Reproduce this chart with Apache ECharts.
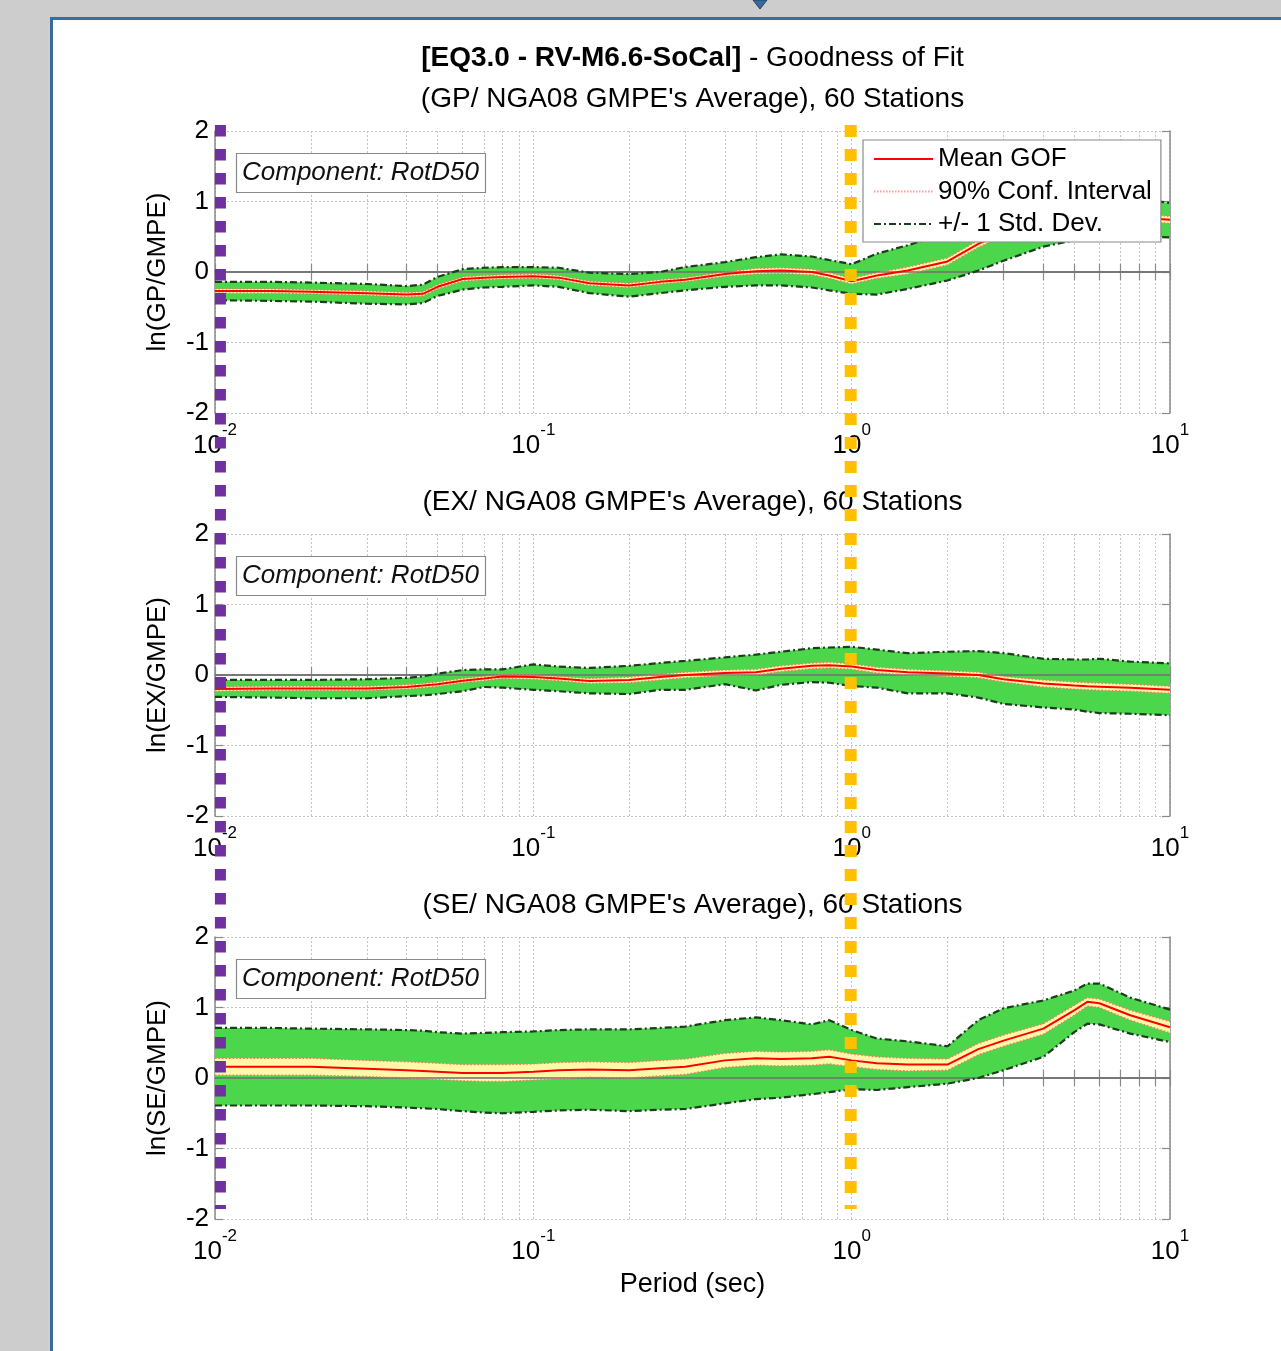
<!DOCTYPE html>
<html>
<head>
<meta charset="utf-8">
<title>Goodness of Fit</title>
<script src="https://cdn.jsdelivr.net/npm/echarts@6.0.0/dist/echarts.min.js"></script>
<style>
  html, body { margin: 0; padding: 0; background: #cdcdcd; }
  #frame { position: absolute; left: 50px; top: 17px; right: 0; bottom: 0; background: #ffffff;
           border-top: 3px solid #3b6a9c; border-left: 3px solid #3b6a9c; }
  #chart { position: absolute; left: 0; top: 0; width: 1281px; height: 1351px; }
</style>
</head>
<body>
<div id="frame"></div>
<div id="chart"></div>
<script>
// Spectral periods (sec) at which the goodness-of-fit statistics are given
const periods = [0.01, 0.015, 0.02, 0.03, 0.04, 0.045, 0.05, 0.06, 0.07, 0.08, 0.1, 0.12, 0.15, 0.2, 0.25, 0.3,
                 0.4, 0.5, 0.6, 0.75, 0.85, 1.0, 1.2, 1.5, 2.0, 2.5, 3.0, 4.0, 5.0, 5.5, 6.0, 7.5, 10.0];

// GP / NGA08 GMPE average
const gpMean   = [-0.27,-0.27,-0.28,-0.30,-0.32,-0.31,-0.21,-0.10,-0.08,-0.07,-0.06,-0.08,-0.16,-0.19,-0.14,-0.11,-0.03,0.01,0.02,0.00,-0.05,-0.13,-0.05,0.02,0.15,0.40,0.56,0.75,0.82,0.83,0.82,0.78,0.74];
const gpConfHi = [-0.24,-0.24,-0.25,-0.27,-0.29,-0.28,-0.18,-0.07,-0.05,-0.04,-0.03,-0.05,-0.13,-0.16,-0.11,-0.08,0.00,0.05,0.06,0.04,-0.01,-0.09,-0.01,0.07,0.20,0.45,0.61,0.80,0.87,0.88,0.87,0.83,0.79];
const gpConfLo = [-0.30,-0.30,-0.31,-0.33,-0.35,-0.34,-0.24,-0.13,-0.11,-0.10,-0.09,-0.11,-0.19,-0.22,-0.17,-0.14,-0.06,-0.03,-0.02,-0.04,-0.09,-0.17,-0.09,-0.03,0.10,0.35,0.51,0.70,0.77,0.78,0.77,0.73,0.69];
const gpStdHi  = [-0.14,-0.14,-0.15,-0.17,-0.20,-0.18,-0.07,0.04,0.06,0.07,0.07,0.06,-0.01,-0.03,0.00,0.07,0.14,0.21,0.25,0.22,0.17,0.11,0.26,0.38,0.55,0.75,0.88,1.02,1.10,1.11,1.10,1.05,0.98];
const gpStdLo  = [-0.40,-0.41,-0.42,-0.45,-0.46,-0.44,-0.34,-0.25,-0.22,-0.21,-0.19,-0.21,-0.30,-0.35,-0.30,-0.26,-0.21,-0.19,-0.19,-0.22,-0.26,-0.31,-0.32,-0.24,-0.12,0.02,0.16,0.36,0.45,0.48,0.50,0.52,0.49];

// EX / NGA08 GMPE average
const exMean   = [-0.20,-0.19,-0.19,-0.19,-0.17,-0.15,-0.13,-0.08,-0.05,-0.02,-0.03,-0.05,-0.085,-0.07,-0.03,0.00,0.03,0.04,0.09,0.13,0.14,0.12,0.07,0.04,0.02,0.00,-0.06,-0.12,-0.15,-0.16,-0.165,-0.18,-0.21];
const exConfHi = [-0.17,-0.16,-0.16,-0.16,-0.14,-0.12,-0.10,-0.05,-0.02,0.01,0.00,-0.02,-0.05,-0.03,0.01,0.04,0.07,0.08,0.13,0.17,0.18,0.16,0.11,0.08,0.06,0.04,-0.02,-0.07,-0.10,-0.11,-0.115,-0.13,-0.16];
const exConfLo = [-0.23,-0.22,-0.22,-0.22,-0.20,-0.18,-0.16,-0.11,-0.08,-0.05,-0.06,-0.08,-0.12,-0.11,-0.07,-0.04,-0.01,0.00,0.05,0.09,0.10,0.08,0.03,0.00,-0.02,-0.04,-0.10,-0.17,-0.20,-0.21,-0.215,-0.23,-0.26];
const exStdHi  = [-0.07,-0.07,-0.07,-0.06,-0.04,-0.02,0.02,0.07,0.08,0.08,0.15,0.12,0.10,0.13,0.17,0.20,0.25,0.29,0.33,0.38,0.39,0.40,0.36,0.31,0.33,0.34,0.31,0.23,0.22,0.22,0.23,0.19,0.165];
const exStdLo  = [-0.31,-0.32,-0.33,-0.33,-0.30,-0.29,-0.27,-0.23,-0.17,-0.18,-0.21,-0.23,-0.26,-0.27,-0.21,-0.21,-0.13,-0.22,-0.14,-0.10,-0.11,-0.155,-0.18,-0.26,-0.26,-0.32,-0.41,-0.46,-0.49,-0.52,-0.54,-0.55,-0.57];

// SE / NGA08 GMPE average
const seMean   = [0.16,0.16,0.16,0.13,0.11,0.10,0.09,0.07,0.07,0.07,0.09,0.11,0.12,0.11,0.14,0.16,0.25,0.28,0.27,0.28,0.30,0.25,0.21,0.19,0.19,0.41,0.53,0.70,0.96,1.08,1.06,0.89,0.72];
const seConfHi = [0.28,0.28,0.28,0.25,0.23,0.22,0.21,0.19,0.19,0.19,0.20,0.22,0.23,0.22,0.25,0.27,0.35,0.38,0.37,0.38,0.40,0.34,0.30,0.28,0.27,0.49,0.61,0.77,1.03,1.14,1.12,0.96,0.80];
const seConfLo = [0.04,0.04,0.04,0.02,0.00,-0.01,-0.02,-0.04,-0.05,-0.05,-0.03,-0.01,0.01,0.00,0.03,0.05,0.15,0.18,0.17,0.18,0.20,0.16,0.12,0.10,0.11,0.33,0.45,0.62,0.89,1.02,1.00,0.82,0.64];
const seStdHi  = [0.71,0.71,0.70,0.69,0.68,0.67,0.65,0.63,0.64,0.65,0.66,0.68,0.69,0.69,0.71,0.73,0.82,0.86,0.82,0.76,0.82,0.68,0.56,0.52,0.45,0.82,0.99,1.10,1.24,1.34,1.34,1.14,0.97];
const seStdLo  = [-0.39,-0.39,-0.39,-0.40,-0.42,-0.43,-0.44,-0.47,-0.49,-0.50,-0.48,-0.46,-0.45,-0.47,-0.45,-0.44,-0.36,-0.30,-0.28,-0.23,-0.20,-0.16,-0.17,-0.13,-0.08,0.00,0.11,0.30,0.65,0.77,0.76,0.63,0.51];

// Text
const mainTitleBold = '[EQ3.0 - RV-M6.6-SoCal]';
const mainTitleRest = ' - Goodness of Fit';
const panelTitles = ["(GP/ NGA08 GMPE's Average), 60 Stations",
                     "(EX/ NGA08 GMPE's Average), 60 Stations",
                     "(SE/ NGA08 GMPE's Average), 60 Stations"];
const yAxisNames = ['ln(GP/GMPE)', 'ln(EX/GMPE)', 'ln(SE/GMPE)'];
const componentLabel = 'Component: RotD50';
const xAxisName = 'Period (sec)';
const legendNames = ['Mean GOF', '90% Conf. Interval', '+/- 1 Std. Dev.'];

// Axis ticks
const decadeTicks = [0.01, 0.1, 1, 10];
const logGridTicks = [0.01,0.02,0.03,0.04,0.05,0.06,0.07,0.08,0.09,
                      0.1,0.2,0.3,0.4,0.5,0.6,0.7,0.8,0.9,
                      1,2,3,4,5,6,7,8,9,10];
const yRange = { min: -2, max: 2, interval: 1 };

// Periods marked by the two vertical guide lines
const guidePeriods = { purple: 0.0104, orange: 0.993 };

// ---------------- layout & style ----------------
const FONT = '"Liberation Sans", Arial, Helvetica, sans-serif';
const PLOT_LEFT = 215, PLOT_WIDTH = 955, PLOT_HEIGHT = 282;
const PANEL_TOPS = [131, 534, 937];
const AXIS_COLOR = '#8a8a8a';
const GRID_COLOR = '#c4c4c4';
const GREEN = '#4cd64c';
const YELLOW = '#fff8a6';
const STD_LINE = '#1c3d1c';

const panels = [
  { mean: gpMean, confHi: gpConfHi, confLo: gpConfLo, stdHi: gpStdHi, stdLo: gpStdLo },
  { mean: exMean, confHi: exConfHi, confLo: exConfLo, stdHi: exStdHi, stdLo: exStdLo },
  { mean: seMean, confHi: seConfHi, confLo: seConfLo, stdHi: seStdHi, stdLo: seStdLo }
];

const pairs = arr => periods.map((t, k) => [t, arr[k]]);
const triples = (lo, hi) => periods.map((t, k) => [t, lo[k], hi[k]]);

// Filled band between two curves, drawn as a single polygon in data coordinates
function bandRenderer(lo, hi, color) {
  return function (params, api) {
    if (params.dataIndex !== 0) return null;
    const upper = periods.map((t, k) => api.coord([t, hi[k]]));
    const lower = periods.map((t, k) => api.coord([t, lo[k]])).reverse();
    return { type: 'polygon', silent: true, shape: { points: upper.concat(lower) }, style: { fill: color } };
  };
}

const grids = [], xAxes = [], yAxes = [], series = [], titles = [], graphics = [];

const meanStyle = { color: '#ff0000', width: 2, type: 'solid' };
const confStyle = { color: '#ff6f6f', width: 1.4, type: [1.5, 2] };
const stdStyle  = { color: STD_LINE, width: 2.2, type: [7, 3, 2, 3] };

panels.forEach((p, i) => {
  const top = PANEL_TOPS[i];
  grids.push({ left: PLOT_LEFT, top: top, width: PLOT_WIDTH, height: PLOT_HEIGHT });

  // bottom period axis (labels + vertical grid)
  xAxes.push({
    type: 'log', logBase: 10, gridIndex: i, position: 'bottom', min: 0.01, max: 10,
    axisLine: { show: true, lineStyle: { color: AXIS_COLOR, width: 1.5 } },
    axisTick: { show: true, inside: true, length: 8, customValues: logGridTicks,
                lineStyle: { color: AXIS_COLOR, width: 1.2 } },
    splitLine: { show: true, lineStyle: { color: GRID_COLOR, width: 1, type: [2, 2] } },
    axisLabel: {
      customValues: decadeTicks, margin: 9, hideOverlap: false,
      formatter: v => '{b|10}{s|' + Math.round(Math.log10(v)) + '}',
      rich: {
        b: { fontSize: 26, fontFamily: FONT, color: '#000', lineHeight: 37, verticalAlign: 'bottom' },
        s: { fontSize: 17, fontFamily: FONT, color: '#000', lineHeight: 18, verticalAlign: 'top' }
      }
    },
    name: i === 2 ? xAxisName : '', nameLocation: 'middle', nameGap: 52,
    nameTextStyle: { fontSize: 27, fontFamily: FONT, color: '#000' }
  });
  // top mirror axis
  xAxes.push({
    type: 'log', logBase: 10, gridIndex: i, position: 'top', min: 0.01, max: 10,
    axisLine: { show: true, lineStyle: { color: AXIS_COLOR, width: 1.5 } },
    axisTick: { show: true, inside: true, length: 8, customValues: logGridTicks,
                lineStyle: { color: AXIS_COLOR, width: 1.2 } },
    splitLine: { show: false }, axisLabel: { show: false }
  });
  // left ln-ratio axis
  yAxes.push({
    type: 'value', gridIndex: i, position: 'left', min: yRange.min, max: yRange.max, interval: yRange.interval,
    axisLine: { show: true, lineStyle: { color: AXIS_COLOR, width: 1.5 } },
    axisTick: { show: true, inside: true, length: 8, lineStyle: { color: AXIS_COLOR, width: 1.2 } },
    splitLine: { show: true, lineStyle: { color: GRID_COLOR, width: 1, type: [2, 2] } },
    axisLabel: { fontSize: 26, fontFamily: FONT, color: '#000', margin: 6 },
    name: yAxisNames[i], nameLocation: 'middle', nameRotate: 90, nameGap: 44,
    nameTextStyle: { fontSize: 26, fontFamily: FONT, color: '#000' }
  });
  // right mirror axis
  yAxes.push({
    type: 'value', gridIndex: i, position: 'right', min: yRange.min, max: yRange.max, interval: yRange.interval,
    axisLine: { show: true, lineStyle: { color: AXIS_COLOR, width: 1.5 } },
    axisTick: { show: true, inside: true, length: 8, lineStyle: { color: AXIS_COLOR, width: 1.2 } },
    splitLine: { show: false }, axisLabel: { show: false }
  });

  const ax = { xAxisIndex: 2 * i, yAxisIndex: 2 * i };

  // +/- 1 std. dev. band and 90% confidence band
  series.push(Object.assign({
    type: 'custom', name: 'std band', z: 1, silent: true, animation: false,
    encode: { x: 0, y: [1, 2] }, data: triples(p.stdLo, p.stdHi),
    renderItem: bandRenderer(p.stdLo, p.stdHi, GREEN)
  }, ax));
  series.push(Object.assign({
    type: 'custom', name: 'conf band', z: 1, silent: true, animation: false,
    encode: { x: 0, y: [1, 2] }, data: triples(p.confLo, p.confHi),
    renderItem: bandRenderer(p.confLo, p.confHi, YELLOW)
  }, ax));

  const common = Object.assign({ type: 'line', symbol: 'none', showSymbol: false, silent: true,
                                 animation: false, z: 3 }, ax);
  // boundary lines, with the zero reference line attached to the first one
  series.push(Object.assign({}, common, {
    name: legendNames[1], data: pairs(p.confHi), lineStyle: confStyle,
    markLine: {
      silent: true, symbol: ['none', 'none'], z: 2, animation: false,
      label: { show: false }, emphasis: { disabled: true },
      lineStyle: { color: '#6f6f6f', width: 1.5, type: 'solid' },
      data: [{ yAxis: 0 }]
    }
  }));
  series.push(Object.assign({}, common, { name: legendNames[1], data: pairs(p.confLo), lineStyle: confStyle }));
  series.push(Object.assign({}, common, { name: legendNames[2], data: pairs(p.stdHi), lineStyle: stdStyle }));
  series.push(Object.assign({}, common, { name: legendNames[2], data: pairs(p.stdLo), lineStyle: stdStyle }));
  series.push(Object.assign({}, common, { name: legendNames[0], data: pairs(p.mean), lineStyle: meanStyle }));

  // component tag
  titles.push({
    text: componentLabel, left: 236, top: top + 22, padding: [6, 7, 6, 6],
    backgroundColor: '#ffffff', borderColor: '#8a8a8a', borderWidth: 1.2,
    textStyle: { fontSize: 26, fontStyle: 'italic', fontWeight: 'normal', fontFamily: FONT,
                 color: '#111', lineHeight: 28 }
  });

  // panel heading
  graphics.push({
    type: 'text', x: PLOT_LEFT + PLOT_WIDTH / 2, y: top - 32, z: 5,
    style: { text: panelTitles[i], font: '28px ' + FONT, fill: '#000', align: 'center', verticalAlign: 'middle' }
  });
});

// main heading
graphics.push({
  type: 'text', x: PLOT_LEFT + PLOT_WIDTH / 2, y: 58, z: 5,
  style: {
    text: '{b|' + mainTitleBold + '}{n|' + mainTitleRest + '}',
    align: 'center', verticalAlign: 'middle',
    rich: {
      b: { fontSize: 28, fontWeight: 'bold', fontFamily: FONT, fill: '#000' },
      n: { fontSize: 28, fontWeight: 'normal', fontFamily: FONT, fill: '#000' }
    }
  }
});
// small window marker at the top edge
graphics.push({
  type: 'polygon', z: 5,
  shape: { points: [[753, 0], [767, 0], [760, 9]] },
  style: { fill: '#3a6a9a', stroke: '#1d3f66', lineWidth: 1 }
});

// overlay grid for the vertical guide lines across all three panels
grids.push({ left: PLOT_LEFT, top: 125, width: PLOT_WIDTH, height: 1084 });
xAxes.push({ type: 'log', logBase: 10, gridIndex: 3, min: 0.01, max: 10, show: false });
yAxes.push({ type: 'value', gridIndex: 3, min: 0, max: 1, inverse: true, show: false });
series.push({
  type: 'line', name: 'guide purple', xAxisIndex: 6, yAxisIndex: 6, symbol: 'none', silent: true, z: 20,
  data: [[guidePeriods.purple, 0], [guidePeriods.purple, 1]],
  lineStyle: { color: '#7030a0', width: 11, type: [11.5, 12.5], cap: 'butt' }
});
series.push({
  type: 'line', name: 'guide orange', xAxisIndex: 6, yAxisIndex: 6, symbol: 'none', silent: true, z: 20,
  data: [[guidePeriods.orange, 0], [guidePeriods.orange, 1]],
  lineStyle: { color: '#ffc000', width: 12, type: [12, 12], cap: 'butt' }
});

const chart = echarts.init(document.getElementById('chart'), null, { renderer: 'canvas' });
chart.setOption({
  animation: false,
  backgroundColor: 'transparent',
  textStyle: { fontFamily: FONT },
  title: titles,
  grid: grids,
  xAxis: xAxes,
  yAxis: yAxes,
  legend: {
    orient: 'vertical', left: 863, top: 140, z: 4,
    padding: [5, 9, 4, 10], itemGap: 4.5, itemWidth: 59, itemHeight: 14,
    backgroundColor: '#ffffff', borderColor: '#8a8a8a', borderWidth: 1.2, borderRadius: 0,
    textStyle: { fontSize: 26, lineHeight: 28, fontFamily: FONT, color: '#000' },
    itemStyle: { opacity: 0 },
    selectedMode: false,
    data: [
      { name: legendNames[0], lineStyle: { color: '#ff0000', width: 2, type: 'solid' } },
      { name: legendNames[1], lineStyle: { color: '#ff9a9a', width: 2, type: [1.5, 1.5] } },
      { name: legendNames[2], lineStyle: { color: STD_LINE, width: 2, type: [7, 3, 2, 3] } }
    ]
  },
  graphic: graphics,
  series: series
});
</script>
</body>
</html>
